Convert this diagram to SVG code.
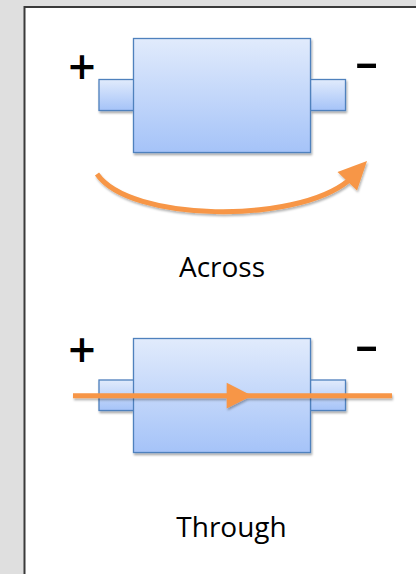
<svg xmlns="http://www.w3.org/2000/svg" width="416" height="574" viewBox="0 0 416 574">
  <defs>
    <linearGradient id="blue" x1="0" y1="0" x2="0" y2="1">
      <stop offset="0" stop-color="#e1ebfc"/>
      <stop offset="1" stop-color="#a5c3f8"/>
    </linearGradient>
    <filter id="sh" x="-10%" y="-10%" width="130%" height="140%">
      <feDropShadow dx="1" dy="2" stdDeviation="1.3" flood-color="#000" flood-opacity="0.35"/>
    </filter>
    <filter id="sh2" x="-10%" y="-50%" width="130%" height="250%">
      <feDropShadow dx="1" dy="2" stdDeviation="1.2" flood-color="#000" flood-opacity="0.3"/>
    </filter>
  </defs>
  <style>
    .box { fill: url(#blue); stroke: #4f81bd; stroke-width: 1.3; }
    .sign { font-family: "Open Sans", "Liberation Sans", sans-serif; fill: #000; }
    .plus { font-size: 48px; font-weight: 600; text-anchor: middle; }
    .minus { font-size: 36px; font-weight: bold; text-anchor: middle; }
    .label { font-family: "Open Sans", "Liberation Sans", sans-serif; font-size: 28px; fill: #000; text-anchor: middle; }
    .flow { fill: none; stroke: #f79646; stroke-width: 5; }
    .head { fill: #f79646; }
  </style>
  <rect x="0" y="0" width="416" height="574" fill="#dfdfdf"/>
  <rect x="24.5" y="7" width="420" height="600" fill="#ffffff" stroke="#3a3a3a" stroke-width="2"/>

  <g id="across-element" filter="url(#sh)">
    <rect class="box" x="99" y="79.5" width="35" height="31"/>
    <rect class="box" x="310.5" y="79.5" width="35" height="31"/>
    <rect class="box" x="133.5" y="38.5" width="177" height="114"/>
  </g>
  <g id="across-plus"><text class="sign plus" x="82" y="84">+</text></g>
  <g id="across-minus"><text class="sign minus" transform="translate(366.7,74.5) scale(2,1)">-</text></g>
  <g id="across-label"><text class="label" x="222" y="277">Across</text></g>

  <g id="through-element" filter="url(#sh)">
    <rect class="box" x="99" y="380" width="35" height="30.5"/>
    <rect class="box" x="310.5" y="380" width="35" height="30.5"/>
    <rect class="box" x="133.5" y="338.5" width="177" height="114"/>
  </g>
  <g id="through-plus"><text class="sign plus" x="82" y="367">+</text></g>
  <g id="through-minus"><text class="sign minus" transform="translate(366.7,357.8) scale(2,1)">-</text></g>
  <g id="through-label"><text class="label" x="231.5" y="537">Through</text></g>

  <g id="connectors" filter="url(#sh2)">
    <path class="flow" d="M97,174 C130,222 295,224 348,181"/>
    <polygon class="head" points="367,161 337.5,172 357,190.5"/>
    <line class="flow" x1="73" y1="395.8" x2="392" y2="395.8"/>
    <polygon class="head" points="252,395.8 226.7,382.7 226.7,408.5"/>
  </g>
</svg>
